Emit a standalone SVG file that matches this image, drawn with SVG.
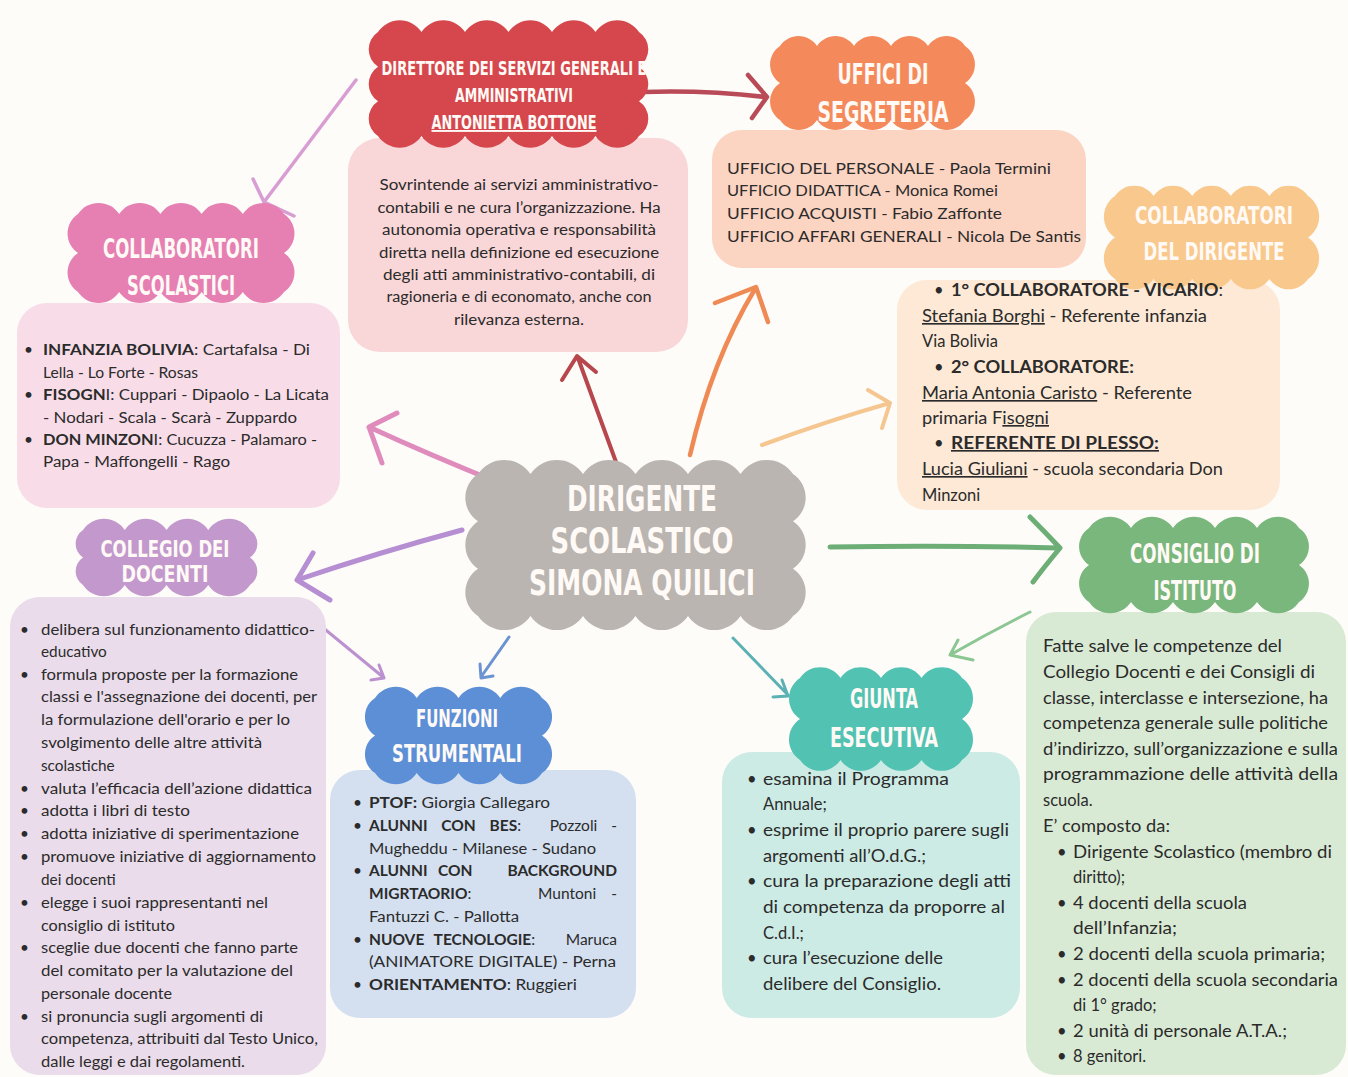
<svg xmlns="http://www.w3.org/2000/svg" width="1348" height="1077" viewBox="0 0 1348 1077">
<style>
.t{font-family:Lato,"Open Sans","Liberation Sans",sans-serif;fill:#2b2b2b}
.b{font-weight:700}
.u{text-decoration:underline}
.ttl{font-family:"Liberation Sans Narrow","DejaVu Sans Condensed","Liberation Sans",sans-serif;font-weight:700;fill:#fffaf6;text-anchor:middle}
.conn path{fill:none;stroke-linecap:round;stroke-linejoin:round}
</style>
<rect width="1348" height="1077" fill="#fdfcf9"/>
<g id="connectors" class="conn">
<path d="M643 92 Q705 90 765 97 M748 75 L767 97 L752 118" stroke="#b94a57" stroke-width="4.5"/>
<path d="M616 462 L578 358 M562 380 L577 356 L596 372" stroke="#b8464d" stroke-width="4"/>
<path d="M690 455 Q712 360 755 289 M715 303 L756 287 L768 322" stroke="#ef8a54" stroke-width="4.5"/>
<path d="M762 445 Q830 420 890 403 M868 390 L890 403 L882 428" stroke="#f5c68f" stroke-width="4"/>
<path d="M830 547 Q950 545 1058 548 M1030 517 Q1045 532 1060 548 Q1045 566 1033 582" stroke="#6cae76" stroke-width="5"/>
<path d="M1030 612 Q990 632 950 655 M958 640 L950 655 L973 660" stroke="#8cc692" stroke-width="3"/>
<path d="M733 638 L788 695 M782 680 L788 696 L773 697" stroke="#5bb1b4" stroke-width="3"/>
<path d="M509 637 L481 677 M480 664 L481 678 L493 676" stroke="#6b93d2" stroke-width="3"/>
<path d="M462 530 Q380 552 297 580 M313 553 L297 580 L330 600" stroke="#b68fd2" stroke-width="5"/>
<path d="M310 617 L383 677 M379 665 L384 678 L371 680" stroke="#bb91cf" stroke-width="3"/>
<path d="M497 482 Q430 455 369 427 M397 413 L369 427 L382 463" stroke="#df8cbd" stroke-width="5"/>
<path d="M356 80 L264 202 M253 179 L264 202 L294 216" stroke="#d89ed3" stroke-width="3.5"/>
</g>

<g id="dsga">
<rect x="348" y="138" width="340" height="214" rx="32" fill="#f9d6d7"/>
<path d="M378 32 a26.1 26.1 0 0 1 43.5 0 a26.1 26.1 0 0 1 43.5 0 a26.1 26.1 0 0 1 43.5 0 a26.1 26.1 0 0 1 43.5 0 a26.1 26.1 0 0 1 43.5 0 a26.1 26.1 0 0 1 43.5 0 a20.8 20.8 0 0 1 0 34.67 a20.8 20.8 0 0 1 0 34.67 a20.8 20.8 0 0 1 0 34.66 a26.1 26.1 0 0 1 -43.5 0 a26.1 26.1 0 0 1 -43.5 0 a26.1 26.1 0 0 1 -43.5 0 a26.1 26.1 0 0 1 -43.5 0 a26.1 26.1 0 0 1 -43.5 0 a26.1 26.1 0 0 1 -43.5 0 a20.8 20.8 0 0 1 0 -34.67 a20.8 20.8 0 0 1 0 -34.67 a20.8 20.8 0 0 1 0 -34.66 z" fill="#d5474c"/>
<text class="ttl" x="514" y="75" font-size="19" textLength="265" lengthAdjust="spacingAndGlyphs">DIRETTORE DEI SERVIZI GENERALI E</text>
<text class="ttl" x="514" y="102" font-size="19" textLength="118" lengthAdjust="spacingAndGlyphs">AMMINISTRATIVI</text>
<text class="ttl u" x="514" y="129" font-size="19" textLength="165" lengthAdjust="spacingAndGlyphs">ANTONIETTA BOTTONE</text>
<g class="t" font-size="14.5" text-anchor="middle">
<text x="519" y="190" textLength="279" lengthAdjust="spacingAndGlyphs">Sovrintende ai servizi amministrativo-</text>
<text x="519" y="213" textLength="283" lengthAdjust="spacingAndGlyphs">contabili e ne cura l’organizzazione. Ha</text>
<text x="519" y="235" textLength="274" lengthAdjust="spacingAndGlyphs">autonomia operativa e responsabilità</text>
<text x="519" y="258" textLength="280" lengthAdjust="spacingAndGlyphs">diretta nella definizione ed esecuzione</text>
<text x="519" y="280" textLength="272" lengthAdjust="spacingAndGlyphs">degli atti amministrativo-contabili, di</text>
<text x="519" y="302" textLength="265" lengthAdjust="spacingAndGlyphs">ragioneria e di economato, anche con</text>
<text x="519" y="325" textLength="130" lengthAdjust="spacingAndGlyphs">rilevanza esterna.</text>
</g>
</g>

<g id="uffici">
<rect x="712" y="130" width="374" height="138" rx="30" fill="#fbd4c2"/>
<path d="M780 46 a22.2 22.2 0 0 1 37 0 a22.2 22.2 0 0 1 37 0 a22.2 22.2 0 0 1 37 0 a22.2 22.2 0 0 1 37 0 a22.2 22.2 0 0 1 37 0 a22.2 22.2 0 0 1 0 37 a22.2 22.2 0 0 1 0 37 a22.2 22.2 0 0 1 -37 0 a22.2 22.2 0 0 1 -37 0 a22.2 22.2 0 0 1 -37 0 a22.2 22.2 0 0 1 -37 0 a22.2 22.2 0 0 1 -37 0 a22.2 22.2 0 0 1 0 -37 a22.2 22.2 0 0 1 0 -37 z" fill="#f48a5c"/>
<text class="ttl" x="883" y="84" font-size="29" textLength="91" lengthAdjust="spacingAndGlyphs">UFFICI DI</text>
<text class="ttl" x="883" y="122" font-size="29" textLength="131" lengthAdjust="spacingAndGlyphs">SEGRETERIA</text>
<g class="t" font-size="16">
<text x="727" y="174" textLength="324" lengthAdjust="spacingAndGlyphs">UFFICIO DEL PERSONALE - Paola Termini</text>
<text x="727" y="196" textLength="271" lengthAdjust="spacingAndGlyphs">UFFICIO DIDATTICA - Monica Romei</text>
<text x="727" y="219" textLength="275" lengthAdjust="spacingAndGlyphs">UFFICIO ACQUISTI - Fabio Zaffonte</text>
<text x="727" y="242" textLength="354" lengthAdjust="spacingAndGlyphs">UFFICIO AFFARI GENERALI - Nicola De Santis</text>
</g>
</g>

<g id="collaboratori-dirigente">
<rect x="897" y="280" width="383" height="230" rx="30" fill="#fde9d6"/>
<path d="M1115 196 a23.2 23.2 0 0 1 38.6 0 a23.2 23.2 0 0 1 38.6 0 a23.2 23.2 0 0 1 38.6 0 a23.2 23.2 0 0 1 38.6 0 a23.2 23.2 0 0 1 38.6 0 a24.9 24.9 0 0 1 0 41.5 a24.9 24.9 0 0 1 0 41.5 a23.2 23.2 0 0 1 -38.6 0 a23.2 23.2 0 0 1 -38.6 0 a23.2 23.2 0 0 1 -38.6 0 a23.2 23.2 0 0 1 -38.6 0 a23.2 23.2 0 0 1 -38.6 0 a24.9 24.9 0 0 1 0 -41.5 a24.9 24.9 0 0 1 0 -41.5 z" fill="#f9c88c"/>
<text class="ttl" x="1214" y="224" font-size="25" textLength="158" lengthAdjust="spacingAndGlyphs">COLLABORATORI</text>
<text class="ttl" x="1214" y="260" font-size="25" textLength="141" lengthAdjust="spacingAndGlyphs">DEL DIRIGENTE</text>
<g class="t" font-size="16.5">
<text x="934" y="296">•</text>
<text x="951" y="296" textLength="272" lengthAdjust="spacingAndGlyphs"><tspan class="b">1° COLLABORATORE - VICARIO</tspan>:</text>
<text x="922" y="322" textLength="285" lengthAdjust="spacingAndGlyphs"><tspan class="u">Stefania Borghi</tspan> - Referente infanzia</text>
<text x="922" y="347">Via Bolivia</text>
<text x="934" y="373">•</text>
<text x="951" y="373" class="b" textLength="183" lengthAdjust="spacingAndGlyphs">2° COLLABORATORE:</text>
<text x="922" y="399" textLength="270" lengthAdjust="spacingAndGlyphs"><tspan class="u">Maria Antonia Caristo</tspan> - Referente</text>
<text x="922" y="424" textLength="127" lengthAdjust="spacingAndGlyphs">primaria F<tspan class="u">isogni</tspan></text>
<text x="934" y="449">•</text>
<text x="951" y="449" class="b u" textLength="208" lengthAdjust="spacingAndGlyphs">REFERENTE DI PLESSO:</text>
<text x="922" y="475" textLength="301" lengthAdjust="spacingAndGlyphs"><tspan class="u">Lucia Giuliani</tspan> - scuola secondaria Don</text>
<text x="922" y="501">Minzoni</text>
</g>
</g>

<g id="collaboratori-scolastici">
<rect x="17" y="303" width="323" height="205" rx="30" fill="#f8dde9"/>
<path d="M78 214 a24.7 24.7 0 0 1 41.2 0 a24.7 24.7 0 0 1 41.2 0 a24.7 24.7 0 0 1 41.2 0 a24.7 24.7 0 0 1 41.2 0 a24.7 24.7 0 0 1 41.2 0 a23.4 23.4 0 0 1 0 39 a23.4 23.4 0 0 1 0 39 a24.7 24.7 0 0 1 -41.2 0 a24.7 24.7 0 0 1 -41.2 0 a24.7 24.7 0 0 1 -41.2 0 a24.7 24.7 0 0 1 -41.2 0 a24.7 24.7 0 0 1 -41.2 0 a23.4 23.4 0 0 1 0 -39 a23.4 23.4 0 0 1 0 -39 z" fill="#e680b3"/>
<text class="ttl" x="181" y="258" font-size="26" textLength="156" lengthAdjust="spacingAndGlyphs">COLLABORATORI</text>
<text class="ttl" x="181" y="295" font-size="26" textLength="108" lengthAdjust="spacingAndGlyphs">SCOLASTICI</text>
<g class="t" font-size="15.5">
<text x="24" y="355">•</text>
<text x="43" y="355" textLength="267" lengthAdjust="spacingAndGlyphs"><tspan class="b">INFANZIA BOLIVIA</tspan>: Cartafalsa - Di</text>
<text x="43" y="378" textLength="155" lengthAdjust="spacingAndGlyphs">Lella - Lo Forte - Rosas</text>
<text x="24" y="400">•</text>
<text x="43" y="400" textLength="286" lengthAdjust="spacingAndGlyphs"><tspan class="b">FISOGN</tspan>I: Cuppari - Dipaolo - La Licata</text>
<text x="43" y="423" textLength="254" lengthAdjust="spacingAndGlyphs">- Nodari - Scala - Scarà - Zuppardo</text>
<text x="24" y="445">•</text>
<text x="43" y="445" textLength="274" lengthAdjust="spacingAndGlyphs"><tspan class="b">DON MINZON</tspan>I: Cucuzza - Palamaro -</text>
<text x="43" y="467" textLength="187" lengthAdjust="spacingAndGlyphs">Papa - Maffongelli - Rago</text>
</g>
</g>

<g id="collegio-docenti">
<rect x="10" y="597" width="316" height="478" rx="30" fill="#eadcea"/>
<path d="M83 530 a25 25 0 0 1 41.75 0 a25 25 0 0 1 41.75 0 a25 25 0 0 1 41.75 0 a25 25 0 0 1 41.75 0 a16.5 16.5 0 0 1 0 27.5 a16.5 16.5 0 0 1 0 27.5 a25 25 0 0 1 -41.75 0 a25 25 0 0 1 -41.75 0 a25 25 0 0 1 -41.75 0 a25 25 0 0 1 -41.75 0 a16.5 16.5 0 0 1 0 -27.5 a16.5 16.5 0 0 1 0 -27.5 z" fill="#c398cc"/>
<text class="ttl" x="165" y="557" font-size="23" textLength="129" lengthAdjust="spacingAndGlyphs">COLLEGIO DEI</text>
<text class="ttl" x="165" y="582" font-size="23" textLength="87" lengthAdjust="spacingAndGlyphs">DOCENTI</text>
<g class="t" font-size="15.3">
<text x="20" y="635">•</text><text x="41" y="635" textLength="274" lengthAdjust="spacingAndGlyphs">delibera sul funzionamento didattico-</text>
<text x="41" y="657">educativo</text>
<text x="20" y="680">•</text><text x="41" y="680" textLength="257" lengthAdjust="spacingAndGlyphs">formula proposte per la formazione</text>
<text x="41" y="702" textLength="276" lengthAdjust="spacingAndGlyphs">classi e l'assegnazione dei docenti, per</text>
<text x="41" y="725" textLength="249" lengthAdjust="spacingAndGlyphs">la formulazione dell'orario e per lo</text>
<text x="41" y="748" textLength="221" lengthAdjust="spacingAndGlyphs">svolgimento delle altre attività</text>
<text x="41" y="771">scolastiche</text>
<text x="20" y="794">•</text><text x="41" y="794" textLength="271" lengthAdjust="spacingAndGlyphs">valuta l’efficacia dell’azione didattica</text>
<text x="20" y="816">•</text><text x="41" y="816" textLength="149" lengthAdjust="spacingAndGlyphs">adotta i libri di testo</text>
<text x="20" y="839">•</text><text x="41" y="839" textLength="258" lengthAdjust="spacingAndGlyphs">adotta iniziative di sperimentazione</text>
<text x="20" y="862">•</text><text x="41" y="862" textLength="275" lengthAdjust="spacingAndGlyphs">promuove iniziative di aggiornamento</text>
<text x="41" y="885">dei docenti</text>
<text x="20" y="908">•</text><text x="41" y="908" textLength="227" lengthAdjust="spacingAndGlyphs">elegge i suoi rappresentanti nel</text>
<text x="41" y="931" textLength="134" lengthAdjust="spacingAndGlyphs">consiglio di istituto</text>
<text x="20" y="953">•</text><text x="41" y="953" textLength="257" lengthAdjust="spacingAndGlyphs">sceglie due docenti che fanno parte</text>
<text x="41" y="976" textLength="252" lengthAdjust="spacingAndGlyphs">del comitato per la valutazione del</text>
<text x="41" y="999" textLength="131" lengthAdjust="spacingAndGlyphs">personale docente</text>
<text x="20" y="1022">•</text><text x="41" y="1022" textLength="222" lengthAdjust="spacingAndGlyphs">si pronuncia sugli argomenti di</text>
<text x="41" y="1044" textLength="277" lengthAdjust="spacingAndGlyphs">competenza, attribuiti dal Testo Unico,</text>
<text x="41" y="1067" textLength="204" lengthAdjust="spacingAndGlyphs">dalle leggi e dai regolamenti.</text>
</g>
</g>

<g id="funzioni-strumentali">
<rect x="330" y="770" width="306" height="248" rx="30" fill="#d4e0f0"/>
<path d="M375 698 a25 25 0 0 1 41.75 0 a25 25 0 0 1 41.75 0 a25 25 0 0 1 41.75 0 a25 25 0 0 1 41.75 0 a22.5 22.5 0 0 1 0 37.5 a22.5 22.5 0 0 1 0 37.5 a25 25 0 0 1 -41.75 0 a25 25 0 0 1 -41.75 0 a25 25 0 0 1 -41.75 0 a25 25 0 0 1 -41.75 0 a22.5 22.5 0 0 1 0 -37.5 a22.5 22.5 0 0 1 0 -37.5 z" fill="#5d8fd7"/>
<text class="ttl" x="457" y="727" font-size="24" textLength="82" lengthAdjust="spacingAndGlyphs">FUNZIONI</text>
<text class="ttl" x="457" y="762" font-size="24" textLength="130" lengthAdjust="spacingAndGlyphs">STRUMENTALI</text>
<g class="t" font-size="15.5">
<text x="353" y="808">•</text><text x="369" y="808" textLength="181" lengthAdjust="spacingAndGlyphs"><tspan class="b">PTOF:</tspan> Giorgia Callegaro</text>
<text x="353" y="831">•</text><text x="369" y="831" word-spacing="10"><tspan class="b">ALUNNI CON BES</tspan>:</text><text x="617" y="831" text-anchor="end" word-spacing="10">Pozzoli -</text>
<text x="369" y="854" textLength="227" lengthAdjust="spacingAndGlyphs">Mugheddu - Milanese - Sudano</text>
<text x="353" y="876">•</text><text x="369" y="876" class="b">ALUNNI</text><text x="438" y="876" class="b">CON</text><text x="617" y="876" class="b" text-anchor="end">BACKGROUND</text>
<text x="369" y="899"><tspan class="b">MIGRTAORIO</tspan>:</text><text x="538" y="899">Muntoni</text><text x="617" y="899" text-anchor="end">-</text>
<text x="369" y="922" textLength="150" lengthAdjust="spacingAndGlyphs">Fantuzzi C. - Pallotta</text>
<text x="353" y="945">•</text><text x="369" y="945" word-spacing="6"><tspan class="b">NUOVE TECNOLOGIE</tspan>:</text><text x="617" y="945" text-anchor="end">Maruca</text>
<text x="369" y="967" textLength="247" lengthAdjust="spacingAndGlyphs">(ANIMATORE DIGITALE) - Perna</text>
<text x="353" y="990">•</text><text x="369" y="990" textLength="208" lengthAdjust="spacingAndGlyphs"><tspan class="b">ORIENTAMENTO</tspan>: Ruggieri</text>
</g>
</g>

<g id="giunta-esecutiva">
<rect x="722" y="752" width="298" height="266" rx="30" fill="#cdebe5"/>
<path d="M800 678 a24.3 24.3 0 0 1 40.5 0 a24.3 24.3 0 0 1 40.5 0 a24.3 24.3 0 0 1 40.5 0 a24.3 24.3 0 0 1 40.5 0 a24.6 24.6 0 0 1 0 41 a24.6 24.6 0 0 1 0 41 a24.3 24.3 0 0 1 -40.5 0 a24.3 24.3 0 0 1 -40.5 0 a24.3 24.3 0 0 1 -40.5 0 a24.3 24.3 0 0 1 -40.5 0 a24.6 24.6 0 0 1 0 -41 a24.6 24.6 0 0 1 0 -41 z" fill="#52c2b3"/>
<text class="ttl" x="884" y="708" font-size="27" textLength="68" lengthAdjust="spacingAndGlyphs">GIUNTA</text>
<text class="ttl" x="884" y="747" font-size="27" textLength="108" lengthAdjust="spacingAndGlyphs">ESECUTIVA</text>
<g class="t" font-size="16.5">
<text x="747" y="785">•</text><text x="763" y="785" textLength="186" lengthAdjust="spacingAndGlyphs">esamina il Programma</text>
<text x="763" y="810">Annuale;</text>
<text x="747" y="836">•</text><text x="763" y="836" textLength="246" lengthAdjust="spacingAndGlyphs">esprime il proprio parere sugli</text>
<text x="763" y="862" textLength="163" lengthAdjust="spacingAndGlyphs">argomenti all’O.d.G.;</text>
<text x="747" y="887">•</text><text x="763" y="887" textLength="248" lengthAdjust="spacingAndGlyphs">cura la preparazione degli atti</text>
<text x="763" y="913" textLength="242" lengthAdjust="spacingAndGlyphs">di competenza da proporre al</text>
<text x="763" y="939">C.d.I.;</text>
<text x="747" y="964">•</text><text x="763" y="964" textLength="180" lengthAdjust="spacingAndGlyphs">cura l’esecuzione delle</text>
<text x="763" y="990" textLength="178" lengthAdjust="spacingAndGlyphs">delibere del Consiglio.</text>
</g>
</g>

<g id="consiglio-istituto">
<rect x="1026" y="612" width="320" height="463" rx="30" fill="#d9ead4"/>
<path d="M1089 528 a25.2 25.2 0 0 1 42 0 a25.2 25.2 0 0 1 42 0 a25.2 25.2 0 0 1 42 0 a25.2 25.2 0 0 1 42 0 a25.2 25.2 0 0 1 42 0 a22.2 22.2 0 0 1 0 37 a22.2 22.2 0 0 1 0 37 a25.2 25.2 0 0 1 -42 0 a25.2 25.2 0 0 1 -42 0 a25.2 25.2 0 0 1 -42 0 a25.2 25.2 0 0 1 -42 0 a25.2 25.2 0 0 1 -42 0 a22.2 22.2 0 0 1 0 -37 a22.2 22.2 0 0 1 0 -37 z" fill="#7ab77c"/>
<text class="ttl" x="1195" y="563" font-size="26" textLength="130" lengthAdjust="spacingAndGlyphs">CONSIGLIO DI</text>
<text class="ttl" x="1195" y="600" font-size="26" textLength="83" lengthAdjust="spacingAndGlyphs">ISTITUTO</text>
<g class="t" font-size="16.5">
<text x="1043" y="652" textLength="239" lengthAdjust="spacingAndGlyphs">Fatte salve le competenze del</text>
<text x="1043" y="678" textLength="272" lengthAdjust="spacingAndGlyphs">Collegio Docenti e dei Consigli di</text>
<text x="1043" y="704" textLength="285" lengthAdjust="spacingAndGlyphs">classe, interclasse e intersezione, ha</text>
<text x="1043" y="729" textLength="285" lengthAdjust="spacingAndGlyphs">competenza generale sulle politiche</text>
<text x="1043" y="755" textLength="295" lengthAdjust="spacingAndGlyphs">d’indirizzo, sull’organizzazione e sulla</text>
<text x="1043" y="780" textLength="295" lengthAdjust="spacingAndGlyphs">programmazione delle attività della</text>
<text x="1043" y="806">scuola.</text>
<text x="1043" y="832" textLength="127" lengthAdjust="spacingAndGlyphs">E’ composto da:</text>
<text x="1057" y="858">•</text><text x="1073" y="858" textLength="259" lengthAdjust="spacingAndGlyphs">Dirigente Scolastico (membro di</text>
<text x="1073" y="883">diritto);</text>
<text x="1057" y="909">•</text><text x="1073" y="909" textLength="174" lengthAdjust="spacingAndGlyphs">4 docenti della scuola</text>
<text x="1073" y="934" textLength="104" lengthAdjust="spacingAndGlyphs">dell’Infanzia;</text>
<text x="1057" y="960">•</text><text x="1073" y="960" textLength="252" lengthAdjust="spacingAndGlyphs">2 docenti della scuola primaria;</text>
<text x="1057" y="986">•</text><text x="1073" y="986" textLength="265" lengthAdjust="spacingAndGlyphs">2 docenti della scuola secondaria</text>
<text x="1073" y="1011">di 1° grado;</text>
<text x="1057" y="1037">•</text><text x="1073" y="1037" textLength="214" lengthAdjust="spacingAndGlyphs">2 unità di personale A.T.A.;</text>
<text x="1057" y="1062">•</text><text x="1073" y="1062">8 genitori.</text>
</g>
</g>

<g id="dirigente">
<path d="M478 474 a31.5 31.5 0 0 1 52.5 0 a31.5 31.5 0 0 1 52.5 0 a31.5 31.5 0 0 1 52.5 0 a31.5 31.5 0 0 1 52.5 0 a31.5 31.5 0 0 1 52.5 0 a31.5 31.5 0 0 1 52.5 0 a28.4 28.4 0 0 1 0 47.33 a28.4 28.4 0 0 1 0 47.33 a28.4 28.4 0 0 1 0 47.34 a31.5 31.5 0 0 1 -52.5 0 a31.5 31.5 0 0 1 -52.5 0 a31.5 31.5 0 0 1 -52.5 0 a31.5 31.5 0 0 1 -52.5 0 a31.5 31.5 0 0 1 -52.5 0 a31.5 31.5 0 0 1 -52.5 0 a28.4 28.4 0 0 1 0 -47.33 a28.4 28.4 0 0 1 0 -47.33 a28.4 28.4 0 0 1 0 -47.34 z" fill="#bab5b1"/>
<text class="ttl" x="642" y="511" font-size="35" textLength="150" lengthAdjust="spacingAndGlyphs">DIRIGENTE</text>
<text class="ttl" x="642" y="553" font-size="35" textLength="183" lengthAdjust="spacingAndGlyphs">SCOLASTICO</text>
<text class="ttl" x="642" y="595" font-size="35" textLength="226" lengthAdjust="spacingAndGlyphs">SIMONA QUILICI</text>
</g>
</svg>
